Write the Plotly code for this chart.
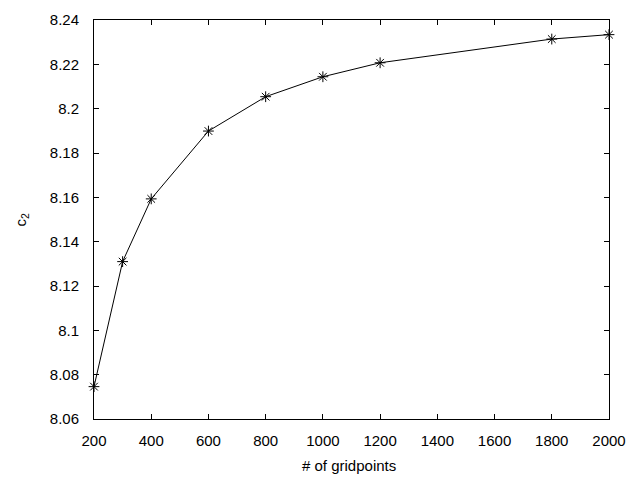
import plotly.graph_objects as go

gridpoints = [200, 300, 400, 600, 800, 1000, 1200, 1800, 2000]
c2_values = [8.0746, 8.1310, 8.1593, 8.1899, 8.2054, 8.2144, 8.2207, 8.2314, 8.2334]

x_ticks = [200, 400, 600, 800, 1000, 1200, 1400, 1600, 1800, 2000]
y_ticks = [8.06, 8.08, 8.1, 8.12, 8.14, 8.16, 8.18, 8.2, 8.22, 8.24]
y_tick_text = ["8.06", "8.08", "8.1", "8.12", "8.14", "8.16", "8.18", "8.2", "8.22", "8.24"]

font_family = "Liberation Sans, Arial, sans-serif"
fsize = 15

fig = go.Figure()
fig.add_trace(go.Scatter(
    x=gridpoints, y=c2_values, mode="lines+markers",
    line=dict(color="black", width=1),
    marker=dict(symbol="asterisk-open", size=9, color="black",
                line=dict(color="black", width=1)),
    showlegend=False, cliponaxis=False,
))

axis_common = dict(
    showgrid=False, zeroline=False, showline=True, linecolor="black", linewidth=1,
    mirror="allticks", ticks="inside", ticklen=5, tickcolor="black", tickwidth=1,
    tickfont=dict(family=font_family, size=fsize, color="black"),
)

fig.update_layout(
    width=640, height=480,
    margin=dict(l=94, r=31, t=20, b=61, autoexpand=False),
    paper_bgcolor="white", plot_bgcolor="white",
    font=dict(family=font_family, size=fsize, color="black"),
    xaxis=dict(range=[200, 2000], tickvals=x_ticks, ticklabelstandoff=8, **axis_common),
    yaxis=dict(range=[8.06, 8.24], tickvals=y_ticks, ticktext=y_tick_text,
               ticklabelstandoff=11, **axis_common),
    annotations=[
        dict(text="# of gridpoints", xref="paper", yref="paper",
             x=0.495, y=-46 / 399, xanchor="center", yanchor="middle",
             showarrow=False, font=dict(family=font_family, size=fsize, color="black")),
        dict(text="c<sub>2</sub>", xref="paper", yref="paper",
             x=-73 / 515, y=0.5, xanchor="center", yanchor="middle", textangle=-90,
             showarrow=False, font=dict(family=font_family, size=fsize, color="black")),
    ],
)

fig.write_html(
    "out.html",
    config={"displayModeBar": False},
    post_script="document.body.style.margin='0';document.body.style.padding='0';",
)
